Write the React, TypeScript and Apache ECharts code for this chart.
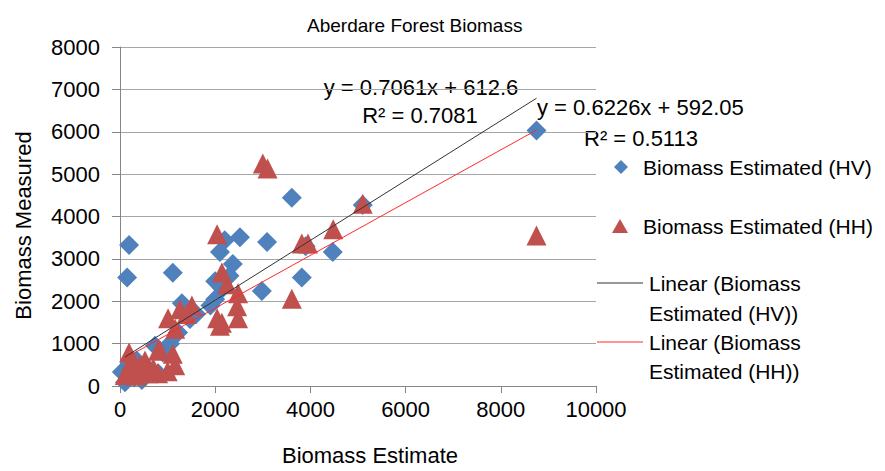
import React, { useEffect, useRef } from "react";
import * as echarts from "echarts";

const chartTitle = "Aberdare Forest Biomass";
const xAxisTitle = "Biomass Estimate";
const yAxisTitle = "Biomass Measured";
const seriesNames = [
  "Biomass Estimated (HV)",
  "Biomass Estimated (HH)",
  "Linear (Biomass Estimated (HV))",
  "Linear (Biomass Estimated (HH))",
];

const hvPoints: [number, number][] = [
  [8750, 6030], [190, 3330], [150, 2560], [1110, 2670], [3610, 4440],
  [2200, 3440], [2520, 3510], [3090, 3400], [2100, 3160], [2370, 2880],
  [4470, 3160], [3820, 2560], [2980, 2240], [5100, 4270], [3900, 3300],
  [2000, 2470], [2000, 2050], [2150, 2300], [1300, 1950], [1470, 1580],
  [1220, 1260], [1050, 1000], [900, 790], [735, 950], [460, 140],
  [105, 90], [40, 330], [300, 200], [600, 400], [800, 300],
  [200, 500], [1900, 1900], [2300, 2600], [1600, 1700], [350, 600],
];

const hhPoints: [number, number][] = [
  [8750, 3550], [3000, 5250], [3100, 5130], [5100, 4300], [2040, 3580],
  [2140, 2680], [3820, 3360], [3950, 3360], [4480, 3700], [3610, 2060],
  [2480, 2190], [2460, 1880], [2480, 1600], [2140, 1490], [2040, 1600],
  [2100, 1420], [2250, 2400], [1510, 1900], [1260, 1810], [1400, 1700],
  [1010, 1600], [1160, 1350], [1110, 760], [800, 840], [190, 790],
  [525, 600], [840, 840], [1160, 490], [700, 420], [420, 490],
  [210, 370], [100, 260], [350, 250], [600, 300], [800, 300],
  [1000, 350], [250, 600],
];

// trendline [slope, intercept] and x-extent
const hvTrend = [0.7061, 612.6];
const hhTrend = [0.6226, 592.05];
const trendXRange = [100, 8750];

const hvEquation = ["y = 0.7061x + 612.6", "R² = 0.7081"];
const hhEquation = ["y = 0.6226x + 592.05", "R² = 0.5113"];

const FONT = "Liberation Sans, Arial, Helvetica, sans-serif";
const BLUE = "#4f81bd";
const RED = "#c0504d";

function trendData(t: number[]): [number, number][] {
  return trendXRange.map((x) => [x, t[0] * x + t[1]] as [number, number]);
}

function txt(text: string, x: number, y: number, align = "left", size = 21) {
  return {
    type: "text",
    x,
    y,
    silent: true,
    style: {
      text,
      fill: "#000",
      fontSize: size,
      fontFamily: FONT,
      align,
      verticalAlign: "middle",
    },
  };
}

export default function App() {
  const ref = useRef<HTMLDivElement>(null);
  useEffect(() => {
    if (!ref.current) return;
    const chart = echarts.init(ref.current, null, { renderer: "svg" });
    chart.setOption({
      animation: false,
      backgroundColor: "#fff",
      textStyle: { fontFamily: FONT },
      title: {
        text: chartTitle,
        left: 302,
        top: 11,
        textStyle: { fontSize: 19, fontWeight: "normal", color: "#000", fontFamily: FONT },
      },
      grid: { left: 120, right: 289, top: 47, bottom: 80, containLabel: false },
      xAxis: {
        type: "value",
        min: 0,
        max: 10000,
        interval: 2000,
        name: xAxisTitle,
        nameLocation: "middle",
        nameGap: 58,
        nameTextStyle: { fontSize: 22, color: "#000", fontFamily: FONT, padding: [0, 0, 0, 24] },
        axisLine: { show: true, lineStyle: { color: "#868686", width: 1 } },
        axisTick: { show: true, length: 7, lineStyle: { color: "#868686" } },
        axisLabel: {
          color: "#000",
          fontSize: 22,
          margin: 12,
          fontFamily: FONT,
          formatter: (v: number) => String(v),
        },
        splitLine: { show: false },
      },
      yAxis: {
        type: "value",
        min: 0,
        max: 8000,
        interval: 1000,
        name: yAxisTitle,
        nameLocation: "middle",
        nameGap: 86,
        nameTextStyle: { fontSize: 22, color: "#000", fontFamily: FONT, padding: [0, 18, 0, 0] },
        axisLine: { show: true, lineStyle: { color: "#868686", width: 1 } },
        axisTick: { show: true, length: 8, lineStyle: { color: "#868686" } },
        axisLabel: {
          color: "#000",
          fontSize: 22,
          margin: 20,
          fontFamily: FONT,
          formatter: (v: number) => String(v),
        },
        splitLine: { show: true, lineStyle: { color: "#a6a6a6", width: 1 } },
      },
      series: [
        {
          name: seriesNames[0],
          type: "scatter",
          symbol: "diamond",
          symbolSize: 20,
          itemStyle: { color: BLUE, opacity: 1 },
          data: hvPoints,
          z: 2,
        },
        {
          name: seriesNames[1],
          type: "scatter",
          symbol: "triangle",
          symbolSize: 20,
          itemStyle: { color: RED, opacity: 1 },
          data: hhPoints,
          z: 3,
        },
        {
          name: seriesNames[2],
          type: "line",
          symbol: "none",
          lineStyle: { color: "#333", width: 1 },
          data: trendData(hvTrend),
          z: 4,
        },
        {
          name: seriesNames[3],
          type: "line",
          symbol: "none",
          lineStyle: { color: "#ff2a2a", width: 1 },
          data: trendData(hhTrend),
          z: 4,
        },
      ],
      graphic: [
        txt(hvEquation[0], 421, 87, "center", 22),
        txt(hvEquation[1], 420, 115, "center", 22),
        txt(hhEquation[0], 537, 107, "left", 22),
        txt(hhEquation[1], 584, 138, "left", 22),
        {
          type: "polygon",
          silent: true,
          shape: { points: [[621, 160], [628, 167], [621, 174], [614, 167]] },
          style: { fill: BLUE },
        },
        txt(seriesNames[0], 643, 167),
        {
          type: "polygon",
          silent: true,
          shape: { points: [[620, 219], [628, 233], [612, 233]] },
          style: { fill: RED },
        },
        txt(seriesNames[1], 643, 226),
        {
          type: "line",
          silent: true,
          shape: { x1: 597, y1: 283, x2: 643, y2: 283 },
          style: { stroke: "#333", lineWidth: 1 },
        },
        txt("Linear (Biomass", 649, 283),
        txt("Estimated (HV))", 649, 313),
        {
          type: "line",
          silent: true,
          shape: { x1: 597, y1: 342, x2: 643, y2: 342 },
          style: { stroke: "#ff2a2a", lineWidth: 1 },
        },
        txt("Linear (Biomass", 649, 342),
        txt("Estimated (HH))", 649, 371),
      ],
    });
    return () => chart.dispose();
  }, []);
  return (
    <div
      ref={ref}
      style={{ position: "fixed", left: 0, top: 0, width: 885, height: 471 }}
    />
  );
}
